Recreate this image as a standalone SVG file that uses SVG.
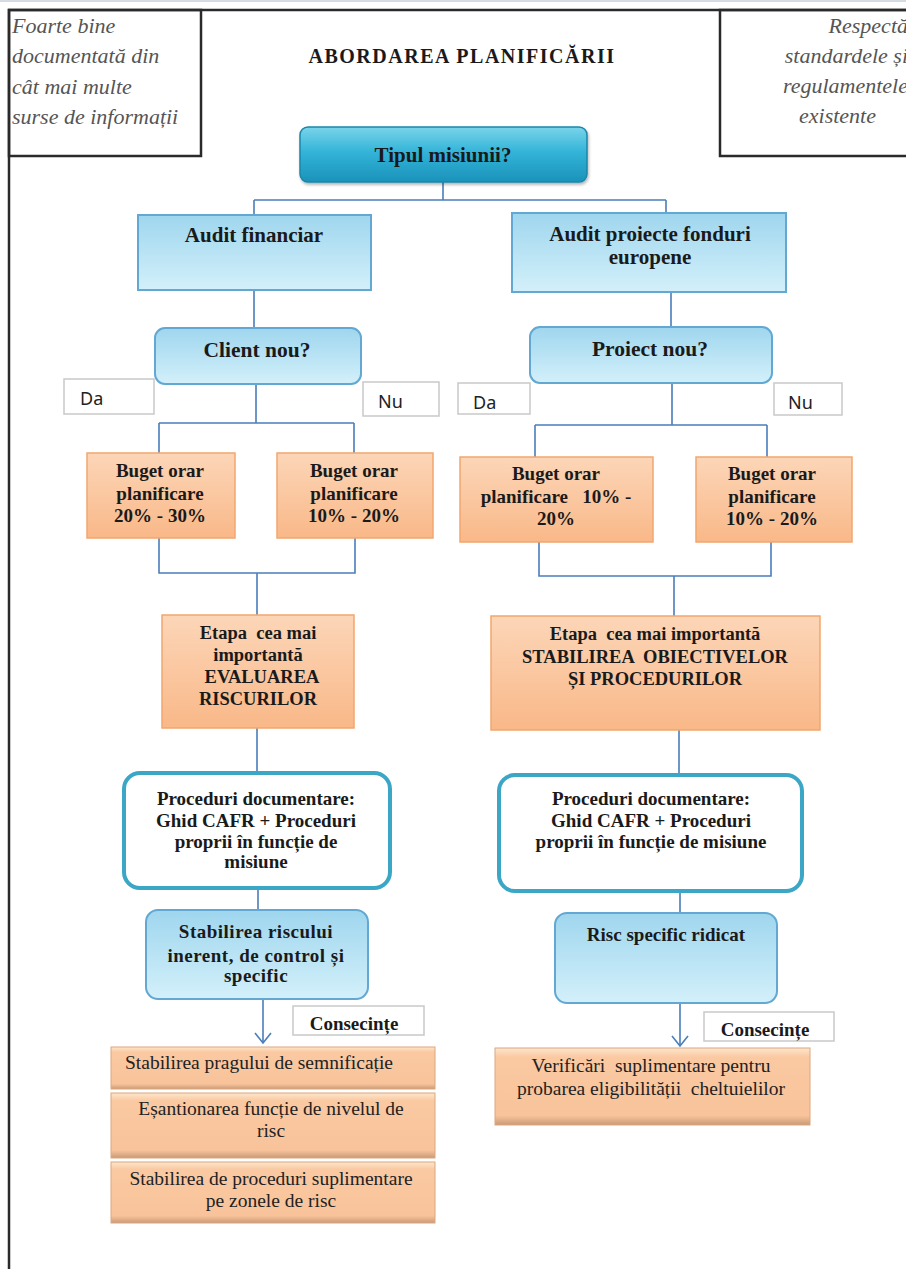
<svg xmlns="http://www.w3.org/2000/svg" width="906" height="1269" viewBox="0 0 906 1269">
<style>
.b{font-family:"Liberation Serif","Times New Roman",serif;font-weight:bold;fill:#1a1a1a;text-anchor:middle}
.r{font-family:"Liberation Serif","Times New Roman",serif;fill:#222;text-anchor:middle;font-size:19.5px}
.rs{font-family:"Liberation Serif","Times New Roman",serif;fill:#222;text-anchor:start;font-size:19.5px}
.it{font-family:"Liberation Serif","Times New Roman",serif;font-style:italic;fill:#555;font-size:22px}
.ite{font-family:"Liberation Serif","Times New Roman",serif;font-style:italic;fill:#555;font-size:22px;text-anchor:end}
.lbl{fill:#fff;stroke:#c9c9c9;stroke-width:1.5}
.lt{font-family:"Noto Sans","Open Sans",sans-serif;font-size:18px;fill:#222}
.blue{fill:url(#gBlue);stroke:#62a8d2;stroke-width:2}
.org{fill:url(#gOrg);stroke:#f2a66e;stroke-width:1.5}
.proc{fill:#fff;stroke:#3ba6c6;stroke-width:4}
.cons{fill:url(#gCons);stroke:#dba87f;stroke-width:1}
.conn path{fill:none;stroke:#4a7ebb;stroke-width:1.6}
.frame{fill:none;stroke:#2a2a2a;stroke-width:2.5}
</style>
<defs>
<linearGradient id="gBlue" x1="0" y1="0" x2="0" y2="1"><stop offset="0" stop-color="#9fd6ee"/><stop offset="1" stop-color="#d3f0fa"/></linearGradient>
<linearGradient id="gTeal" x1="0" y1="0" x2="0" y2="1"><stop offset="0" stop-color="#7ad4ea"/><stop offset="0.45" stop-color="#33b4d8"/><stop offset="1" stop-color="#1b92ba"/></linearGradient>
<linearGradient id="gOrg" x1="0" y1="0" x2="0" y2="1"><stop offset="0" stop-color="#fcd6b8"/><stop offset="1" stop-color="#f9b888"/></linearGradient>
<linearGradient id="gCons" x1="0" y1="0" x2="0" y2="1"><stop offset="0" stop-color="#fde6cd"/><stop offset="0.12" stop-color="#fac9a2"/><stop offset="0.88" stop-color="#f8c39a"/><stop offset="1" stop-color="#c99a78"/></linearGradient>
<marker id="arr" markerUnits="userSpaceOnUse" viewBox="-1 -9 13 18" refX="10" refY="0" markerWidth="13" markerHeight="18" orient="auto"><path d="M0,-8 L10,0 L0,8" fill="none" stroke="#4a7ebb" stroke-width="1.6"/></marker>
<filter id="sh" x="-5%" y="-10%" width="110%" height="130%"><feDropShadow dx="1" dy="2" stdDeviation="1.5" flood-color="#000" flood-opacity="0.3"/></filter>
</defs>
<rect width="906" height="1269" fill="#fff"/>
<line x1="0" y1="1" x2="906" y2="1" stroke="#d4dbe2" stroke-width="2"/>
<g id="frame">
<path class="frame" d="M9,1269 V10 H910"/>
</g>
<g id="note-left">
<rect x="9" y="10" width="192" height="146" class="frame"/>
<text class="it" x="12" y="33">Foarte bine</text>
<text class="it" x="12" y="63">documentată din</text>
<text class="it" x="12" y="94">cât mai multe</text>
<text class="it" x="12" y="124">surse de informații</text>
</g>
<g id="note-right">
<rect x="720" y="10" width="192" height="146" class="frame"/>
<text class="ite" x="908" y="33">Respectă</text>
<text class="ite" x="908" y="63">standardele și</text>
<text class="ite" x="908" y="93">regulamentele</text>
<text class="ite" x="876" y="123">existente</text>
</g>
<g id="title"><text class="b" x="462" y="63" font-size="20" letter-spacing="1.5">ABORDAREA PLANIFICĂRII</text></g>
<g class="conn" id="connectors">
<path d="M443,182 V200 M254,200 H666 M254,200 V215 M666,200 V213"/>
<path d="M254,290 V328 M671,292 V327"/>
<path d="M256,384 V423 M159,423 H354 M159,423 V453 M354,423 V453"/>
<path d="M672,383 V425 M535,425 H767 M535,425 V457 M767,425 V457"/>
<path d="M159,538 V573 H355 V538 M257,573 V615"/>
<path d="M539,542 V576 H771 V542 M674,576 V616"/>
<path d="M257,728 V773 M679,730 V775"/>
<path d="M258,888 V910 M680,891 V913"/>
<path d="M263,999 V1043" marker-end="url(#arr)"/>
<path d="M680,1003 V1046" marker-end="url(#arr)"/>
</g>
<g id="tipul">
<rect x="300" y="127" width="287" height="55" rx="8" fill="url(#gTeal)" stroke="#1a86aa" stroke-width="1.5" filter="url(#sh)"/>
<text class="b" x="443" y="162" font-size="21">Tipul  misiunii?</text>
</g>
<g id="audit-financiar">
<rect x="138" y="215" width="233" height="75" class="blue"/>
<text class="b" x="254" y="242" font-size="21">Audit financiar</text>
</g>
<g id="audit-proiecte">
<rect x="512" y="213" width="274" height="79" class="blue"/>
<text class="b" x="650" y="241" font-size="21">Audit proiecte fonduri</text>
<text class="b" x="650" y="264" font-size="21">europene</text>
</g>
<g id="client-nou">
<rect x="155" y="328" width="206" height="56" rx="10" class="blue"/>
<text class="b" x="257" y="357" font-size="21.5">Client nou?</text>
</g>
<g id="proiect-nou">
<rect x="530" y="327" width="242" height="56" rx="10" class="blue"/>
<text class="b" x="650" y="356" font-size="21.5">Proiect nou?</text>
</g>
<g id="da-left"><rect x="64" y="379" width="90" height="35" class="lbl"/><text class="lt" x="80" y="405">Da</text></g>
<g id="nu-left"><rect x="363" y="382" width="76" height="34" class="lbl"/><text class="lt" x="378" y="408">Nu</text></g>
<g id="da-right"><rect x="458" y="383" width="72" height="31" class="lbl"/><text class="lt" x="473" y="409">Da</text></g>
<g id="nu-right"><rect x="774" y="383" width="68" height="32" class="lbl"/><text class="lt" x="788" y="409">Nu</text></g>
<g id="buget-l1">
<rect x="87" y="453" width="148" height="85" class="org"/>
<text class="b" font-size="19" x="160" y="477">Buget orar</text>
<text class="b" font-size="19" x="160" y="500">planificare</text>
<text class="b" font-size="19" x="160" y="522">20% - 30%</text>
</g>
<g id="buget-l2">
<rect x="277" y="453" width="156" height="85" class="org"/>
<text class="b" font-size="19" x="354" y="477">Buget orar</text>
<text class="b" font-size="19" x="354" y="500">planificare</text>
<text class="b" font-size="19" x="354" y="522">10% - 20%</text>
</g>
<g id="buget-r1">
<rect x="460" y="457" width="193" height="85" class="org"/>
<text class="b" font-size="19" x="556" y="480">Buget orar</text>
<text class="b" font-size="19" x="556" y="503" xml:space="preserve">planificare   10% -</text>
<text class="b" font-size="19" x="556" y="525">20%</text>
</g>
<g id="buget-r2">
<rect x="696" y="457" width="156" height="85" class="org"/>
<text class="b" font-size="19" x="772" y="480">Buget orar</text>
<text class="b" font-size="19" x="772" y="503">planificare</text>
<text class="b" font-size="19" x="772" y="525">10% - 20%</text>
</g>
<g id="etapa-left">
<rect x="162" y="615" width="192" height="113" class="org"/>
<text class="b" font-size="18.5" x="258" y="639" xml:space="preserve">Etapa  cea mai</text>
<text class="b" font-size="18.5" x="258" y="661">importantă</text>
<text class="b" font-size="18.5" x="262" y="683">EVALUAREA</text>
<text class="b" font-size="18.5" x="258" y="705">RISCURILOR</text>
</g>
<g id="etapa-right">
<rect x="491" y="616" width="329" height="114" class="org"/>
<text class="b" font-size="18.5" x="655" y="640" xml:space="preserve">Etapa  cea mai importantă</text>
<text class="b" font-size="18.5" x="655" y="663" xml:space="preserve">STABILIREA  OBIECTIVELOR</text>
<text class="b" font-size="18.5" x="655" y="685">ȘI PROCEDURILOR</text>
</g>
<g id="proceduri-left">
<rect x="124" y="773" width="266" height="115" rx="16" class="proc"/>
<text class="b" font-size="19" x="256" y="805">Proceduri documentare:</text>
<text class="b" font-size="19" x="256" y="827">Ghid CAFR + Proceduri</text>
<text class="b" font-size="19" x="256" y="848">proprii în funcție de</text>
<text class="b" font-size="19" x="256" y="868">misiune</text>
</g>
<g id="proceduri-right">
<rect x="499" y="775" width="303" height="116" rx="16" class="proc"/>
<text class="b" font-size="19" x="651" y="805">Proceduri documentare:</text>
<text class="b" font-size="19" x="651" y="827">Ghid CAFR + Proceduri</text>
<text class="b" font-size="19" x="651" y="848">proprii în funcție de misiune</text>
</g>
<g id="stabilirea-riscului">
<rect x="146" y="910" width="222" height="89" rx="12" class="blue"/>
<text class="b" font-size="19" x="256" y="938" letter-spacing="0.5">Stabilirea riscului</text>
<text class="b" font-size="19" x="256" y="962" letter-spacing="0.5">inerent, de control și</text>
<text class="b" font-size="19" x="256" y="982" letter-spacing="0.5">specific</text>
</g>
<g id="risc-specific">
<rect x="555" y="913" width="222" height="90" rx="12" class="blue"/>
<text class="b" font-size="19" x="666" y="941">Risc specific ridicat</text>
</g>
<g id="consecinte-left">
<rect x="293" y="1006" width="131" height="29" class="lbl"/>
<text class="b" font-size="19" x="354" y="1030">Consecințe</text>
</g>
<g id="consecinte-right">
<rect x="704" y="1012" width="130" height="29" class="lbl"/>
<text class="b" font-size="19" x="765" y="1036">Consecințe</text>
</g>
<g id="prag">
<rect x="111" y="1047" width="324" height="42" class="cons"/>
<text class="rs" x="125" y="1069">Stabilirea pragului de semnificație</text>
</g>
<g id="esantionare">
<rect x="111" y="1093" width="324" height="65" class="cons"/>
<text class="r" x="271" y="1115">Eșantionarea funcție de nivelul de</text>
<text class="r" x="271" y="1137">risc</text>
</g>
<g id="proceduri-supl">
<rect x="111" y="1162" width="324" height="61" class="cons"/>
<text class="r" x="271" y="1185">Stabilirea de proceduri suplimentare</text>
<text class="r" x="271" y="1207">pe zonele de risc</text>
</g>
<g id="verificari">
<rect x="495" y="1048" width="315" height="77" class="cons"/>
<text class="r" x="651" y="1072" xml:space="preserve">Verificări  suplimentare pentru</text>
<text class="r" x="651" y="1095" xml:space="preserve">probarea eligibilității  cheltuielilor</text>
</g>
</svg>
